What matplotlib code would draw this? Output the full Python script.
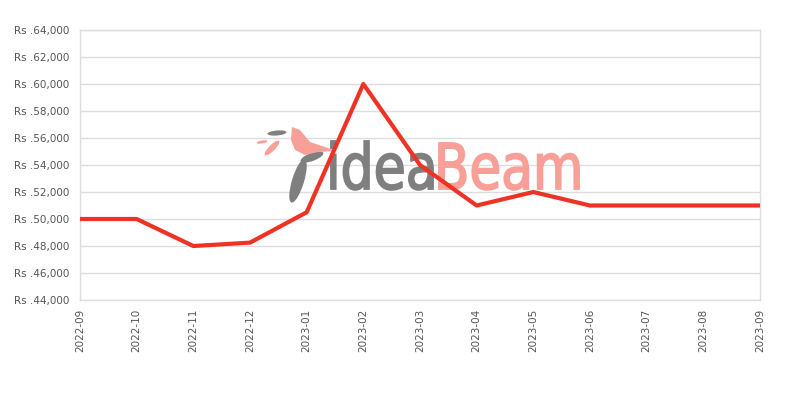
import numpy as np
import matplotlib.pyplot as plt
from matplotlib.patches import Ellipse, Polygon, PathPatch
from matplotlib.textpath import TextPath
from matplotlib.font_manager import FontProperties
from matplotlib.transforms import Affine2D, IdentityTransform
from matplotlib.ticker import FuncFormatter

months = ['2022-09', '2022-10', '2022-11', '2022-12', '2023-01', '2023-02', '2023-03',
          '2023-04', '2023-05', '2023-06', '2023-07', '2023-08', '2023-09']
prices = [49999, 49999, 47999, 48249, 50499, 59999, 53999,
          50999, 51999, 50999, 50999, 50999, 50999]

y_ticks = np.arange(44000, 64001, 2000)

fig = plt.figure(figsize=(8, 4), dpi=100)
ax = fig.add_axes([0.1, 0.25, 0.85, 0.675])

ax.set_yticks(y_ticks)
ax.yaxis.grid(True, color='#dddddd', linewidth=1)
ax.set_axisbelow(True)
for s in ax.spines.values():
    s.set_color('#dddddd')
    s.set_linewidth(1)

# watermark, drawn in pixel coords (origin bottom left)
H = 400
grey = '#7f7f7f'
pink = '#f8a097'
fp = FontProperties(family='DejaVu Sans')

def word(txt, x0, x1, top, base, col):
    tp = TextPath((0, 0), txt, size=1, prop=fp)
    ext = tp.get_extents()
    sx = (x1 - x0) / ext.width
    sy = (base - top) / ext.y1
    tr = Affine2D().translate(-ext.x0, 0).scale(sx, sy).translate(x0, H - base)
    ax.add_patch(PathPatch(tr.transform_path(tp), transform=IdentityTransform(),
                           facecolor=col, edgecolor=col, lw=1.3, zorder=1))

word('idea', 331, 433, 141, 189, grey)
word('Beam', 439, 579, 143, 189, pink)

def ell(cx, cy, w, h, ang, col):
    ax.add_patch(Ellipse((cx, H - cy), w, h, angle=ang, transform=IdentityTransform(),
                         color=col, lw=0, zorder=1))

ell(277, 133, 19, 5, 5, grey)
ell(262, 142, 11, 3, 10, pink)
ell(272, 148, 20, 6, 45, pink)
ell(298, 181, 12, 45, -17, grey)
ell(312, 157, 24, 8, 20, grey)
bird = [(292, 127), (300, 130), (310, 142), (322, 146), (336, 151),
        (318, 152), (305, 155), (295, 150), (291, 140)]
ax.add_patch(Polygon([(px, H - py) for px, py in bird], transform=IdentityTransform(),
                     color=pink, lw=0, zorder=1))

x = np.arange(len(months))
ax.plot(x, prices, color='#ee3224', linewidth=3, zorder=3)

ax.set_xlim(0, len(months) - 1)
ax.set_ylim(44000, 64000)
ax.set_xticks(x)
ax.set_xticklabels(months, rotation=90, fontsize=7.5, color='#555555')
ax.yaxis.set_major_formatter(FuncFormatter(lambda v, p: 'Rs .{:,.0f}'.format(v)))
ax.tick_params(axis='y', labelsize=7.5, labelcolor='#555555', length=0, pad=8)
ax.tick_params(axis='x', length=0, pad=6)

fig.savefig('out.png', dpi=100)
